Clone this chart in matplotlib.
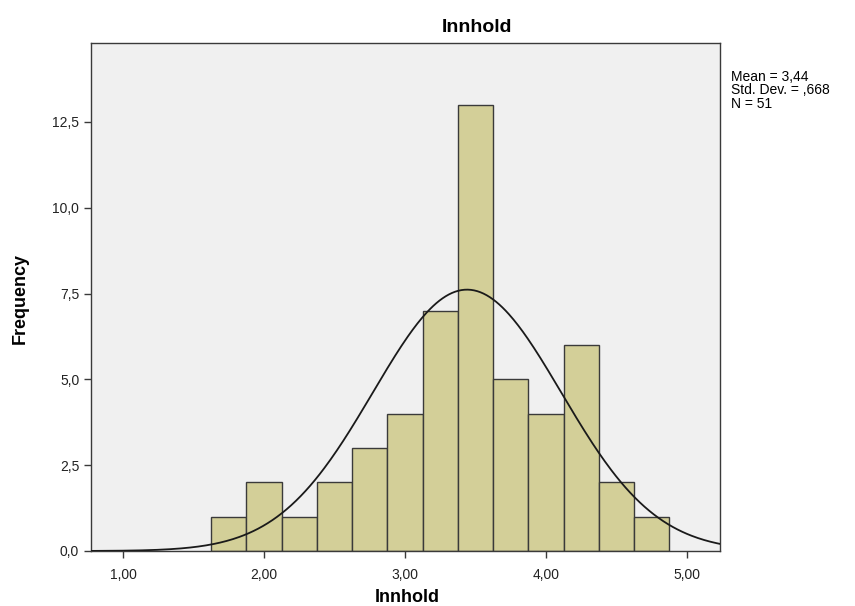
import numpy as np
import matplotlib
matplotlib.use("Agg")
import matplotlib.pyplot as plt

bin_left = [1.625, 1.875, 2.125, 2.375, 2.625, 2.875, 3.125, 3.375, 3.625, 3.875, 4.125, 4.375, 4.625]
counts = [1, 2, 1, 2, 3, 4, 7, 13, 5, 4, 6, 2, 1]
bin_width = 0.25
mean, sd, n = 3.44, 0.668, 51
xticks = [1, 2, 3, 4, 5]
xticklabels = ["1,00", "2,00", "3,00", "4,00", "5,00"]
yticks = [0, 2.5, 5, 7.5, 10, 12.5]
yticklabels = ["0,0", "2,5", "5,0", "7,5", "10,0", "12,5"]

plt.rcParams['font.family'] = ['Liberation Sans', 'DejaVu Sans']

fig = plt.figure(figsize=(8.55, 6.06), dpi=100)
ax = fig.add_axes([91/855, 1-551/606, (720-91)/855, (551-43)/606])
ax.set_facecolor('#f0f0f0')

ax.bar(bin_left, counts, width=bin_width, align='edge', color='#d3cf98',
       edgecolor='#3a3a3a', linewidth=1.0, zorder=2)

xs = np.linspace(0.773, 5.234, 400)
pdf = n * bin_width / (sd * np.sqrt(2 * np.pi)) * np.exp(-0.5 * ((xs - mean) / sd) ** 2)
ax.plot(xs, pdf, color='#1a1a1a', linewidth=1.3, zorder=3)

ax.set_xlim(0.773, 5.234)
ax.set_ylim(0, 14.80)
ax.set_xticks(xticks)
ax.set_xticklabels(xticklabels, fontsize=10)
ax.set_yticks(yticks)
ax.set_yticklabels(yticklabels, fontsize=10)
ax.tick_params(direction='out', length=5, color='#3a3a3a', width=1, labelcolor='#222222')
ax.tick_params(axis='x', pad=7)
for s in ax.spines.values():
    s.set_color('#3a3a3a')
    s.set_linewidth(1.0)

fig.text(407/855, 1 - 598/606, 'Innhold', fontsize=13, fontweight='bold',
         ha='center', va='center')
fig.text(20/855, 1 - 298/606, 'Frequency', fontsize=13, fontweight='bold',
         ha='center', va='center', rotation=90)
fig.text(477/855, 1 - 28/606, 'Innhold', fontsize=14, fontweight='bold',
         ha='center', va='center')
fig.text(731/855, 1 - 70/606, 'Mean = 3,44\nStd. Dev. = ,668\nN = 51', fontsize=10,
         ha='left', va='top', linespacing=0.95)

fig.savefig('out.png', dpi=100)
